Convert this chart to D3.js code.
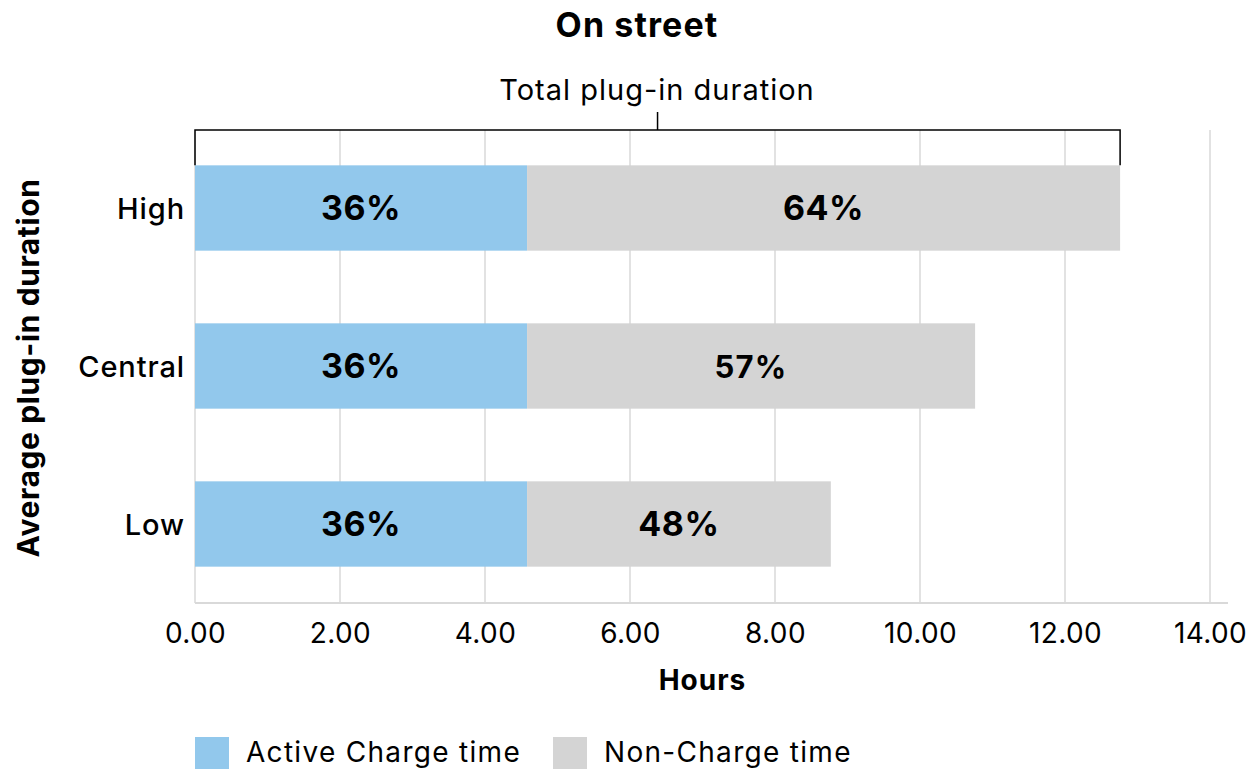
<!DOCTYPE html>
<html><head><meta charset="utf-8">
<script src="https://cdn.jsdelivr.net/npm/d3@7"></script>
<style>body{margin:0;background:#fff}svg{display:block;font-family:Inter,"Liberation Sans",Arial,sans-serif}</style>
</head><body>
<svg id="c" width="1260" height="771"></svg>
<script>
const categories = ["High", "Central", "Low"];
const activeHours = [4.58, 4.58, 4.58];
const nonChargeHours = [8.18, 6.18, 4.19];
const activeLabels = ["36%", "36%", "36%"];
const nonChargeLabels = ["64%", "57%", "48%"];
const xTicks = [0, 2, 4, 6, 8, 10, 12, 14];
const seriesNames = ["Active Charge time", "Non-Charge time"];
const colors = ["#92C8EC", "#D4D4D4"];

const svg = d3.select("#c");
const x = d3.scaleLinear().domain([0, 14]).range([195, 1210]);
const y = d3.scaleBand().domain(categories).range([129, 603]).paddingInner(0.46).paddingOuter(0.23);

// gridlines
svg.append("g").selectAll("line").data(xTicks).join("line")
  .attr("x1", d => x(d)).attr("x2", d => x(d)).attr("y1", 130).attr("y2", 603)
  .attr("stroke", "#d9d9d9").attr("stroke-width", 1.5);
// baseline
svg.append("line").attr("x1", x(0)).attr("x2", 1228).attr("y1", 603).attr("y2", 603)
  .attr("stroke", "#d9d9d9").attr("stroke-width", 2);

// bars
const rows = categories.map((c, i) => ({c, a: activeHours[i], n: nonChargeHours[i], la: activeLabels[i], ln: nonChargeLabels[i]}));
const g = svg.append("g");
g.selectAll("rect.a").data(rows).join("rect").attr("class", "a")
  .attr("x", x(0)).attr("y", d => y(d.c)).attr("width", d => x(d.a) - x(0)).attr("height", y.bandwidth())
  .attr("fill", colors[0]);
g.selectAll("rect.n").data(rows).join("rect").attr("class", "n")
  .attr("x", d => x(d.a)).attr("y", d => y(d.c)).attr("width", d => x(d.a + d.n) - x(d.a)).attr("height", y.bandwidth())
  .attr("fill", colors[1]);
g.selectAll("text.la").data(rows).join("text").attr("class", "la")
  .attr("x", d => (x(0) + x(d.a)) / 2).attr("y", d => y(d.c) + y.bandwidth() / 2 + 12)
  .attr("text-anchor", "middle").attr("font-size", 34).attr("letter-spacing", 0.5).attr("font-weight", "bold").text(d => d.la);
g.selectAll("text.ln").data(rows).join("text").attr("class", "ln")
  .attr("x", d => (x(d.a) + x(d.a + d.n)) / 2).attr("y", d => y(d.c) + y.bandwidth() / 2 + 12)
  .attr("text-anchor", "middle").attr("font-size", (d, i) => i === 1 ? 31 : 34)
  .attr("letter-spacing", (d, i) => i === 1 ? 1.2 : 0.5).attr("font-weight", "bold").text(d => d.ln);

// y category labels
svg.append("g").selectAll("text").data(categories).join("text")
  .attr("x", 185).attr("y", d => y(d) + y.bandwidth() / 2 + 11)
  .attr("text-anchor", "end").attr("font-size", 29).attr("letter-spacing", 0.9).attr("font-weight", 500).text(d => d);

// x tick labels
const xAxis = svg.append("g").attr("transform", "translate(0,603)")
  .call(d3.axisBottom(x).tickValues(xTicks).tickFormat(d3.format(".2f")).tickSize(0).tickPadding(20));
xAxis.select(".domain").remove();
xAxis.selectAll("text").attr("font-size", 28).attr("letter-spacing", 0.4).attr("fill", "#000")
  .attr("font-family", "Inter, Liberation Sans, Arial, sans-serif");

// bracket
const total0 = activeHours[0] + nonChargeHours[0];
const by = 130, bBottom = y(categories[0]);
svg.append("path")
  .attr("d", `M${x(0)},${bBottom}V${by}H${x(total0)}V${bBottom}M${(x(0)+x(total0))/2},${by}V${by-18}`)
  .attr("fill", "none").attr("stroke", "#000").attr("stroke-width", 1.5);

// titles
svg.append("text").attr("x", 637).attr("y", 37).attr("text-anchor", "middle")
  .attr("font-size", 34).attr("letter-spacing", 1.1).attr("font-weight", "bold").text("On street");
svg.append("text").attr("x", 657).attr("y", 100).attr("text-anchor", "middle")
  .attr("font-size", 29).attr("letter-spacing", 1).text("Total plug-in duration");
svg.append("text").attr("x", (x(0) + x(14)) / 2).attr("y", 690).attr("text-anchor", "middle")
  .attr("font-size", 28).attr("letter-spacing", 1).attr("font-weight", "bold").text("Hours");
svg.append("text").attr("transform", "translate(39,368) rotate(-90)").attr("text-anchor", "middle")
  .attr("font-size", 30).attr("letter-spacing", 0.6).attr("font-weight", "bold").text("Average plug-in duration");

// legend
const leg = svg.append("g").selectAll("g").data(seriesNames).join("g")
  .attr("transform", (d, i) => `translate(${i === 0 ? 195 : 553},737)`);
leg.append("rect").attr("width", 34).attr("height", 32).attr("fill", (d, i) => colors[i]);
leg.append("text").attr("x", 51).attr("y", 25).attr("font-size", 28).attr("letter-spacing", 1.3).text(d => d);
</script>
</body></html>
